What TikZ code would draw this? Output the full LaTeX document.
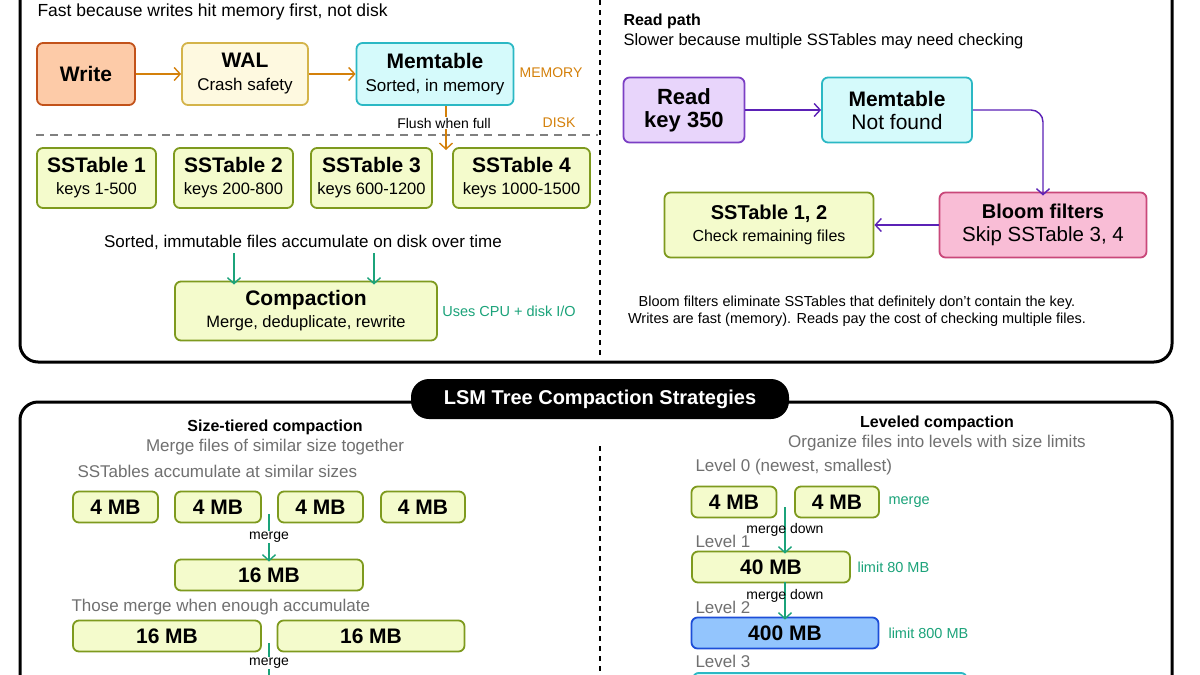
\documentclass[tikz,border=0pt]{standalone}
\usepackage{fontspec}
\setmainfont{Liberation Sans}
\usetikzlibrary{arrows.meta}
\definecolor{orng}{HTML}{D4800A}
\definecolor{grn}{HTML}{1BA37A}
\definecolor{purp}{HTML}{5B21B6}
\definecolor{gtxt}{HTML}{707070}
\definecolor{limef}{HTML}{F4FBCC}
\definecolor{limed}{HTML}{7E9A1E}
\definecolor{peachf}{HTML}{FDCBA8}
\definecolor{peachd}{HTML}{C2521A}
\definecolor{creamf}{HTML}{FEF9E0}
\definecolor{creamd}{HTML}{D4B44A}
\definecolor{cyanf}{HTML}{D5FAFB}
\definecolor{cyand}{HTML}{2BB8C4}
\definecolor{lavf}{HTML}{E8D5FB}
\definecolor{lavd}{HTML}{7B3FC4}
\definecolor{pinkf}{HTML}{F9BDD6}
\definecolor{pinkd}{HTML}{C9487A}
\definecolor{bluef}{HTML}{93C5FD}
\definecolor{blued}{HTML}{1D4ED8}
\newcommand{\rg}[1]{\fontsize{#1pt}{\dimexpr #1pt*12/10\relax}\selectfont}
\newcommand{\bx}[1]{\rg{#1}\bfseries}
\tikzset{
 box/.style={draw, rounded corners=6pt, line width=1.8pt, align=center, inner sep=0pt, font=\rg{20}},
 lbox/.style={box, fill=limef, draw=limed},
 fs/.style={font=\rg{#1}},
 arr/.style={line width=1.4pt, -{Straight Barb[length=6pt,width=13pt]}},
 frame/.style={draw, line width=3pt, rounded corners=18pt},
}
\begin{document}
\begin{tikzpicture}[x=1pt,y=-1pt]
\useasboundingbox (0,0) rectangle (1200,675);
\clip (0,0) rectangle (1200,675);
\fill[white] (0,0) rectangle (1200,675);
% top frame
\draw[frame] (20,-30) rectangle (1172,362);
\draw[line width=1.3pt, dash pattern=on 5pt off 5pt] (600,0) -- (600,358);
% write path
\node[anchor=west, fs=17.5] (fastt) at (34,12) {Fast because writes hit memory first, not disk};
\node[box, fill=peachf, draw=peachd, minimum width=98, minimum height=62] (write) at (86,74) {\bx{21}Write};
\node[box, fill=creamf, draw=creamd, minimum width=126, minimum height=62] (wal) at (245,74) {\bx{21}WAL\\[-1pt]\rg{17}Crash safety};
\node[box, fill=cyanf, draw=cyand, minimum width=157, minimum height=62] (mem) at (435,74) {\bx{21}Memtable\\[-1pt]\rg{17}Sorted, in memory};
\draw[arr, orng] (write) -- (wal);
\draw[arr, orng] (wal) -- (mem);
\node[text=orng, fs=14] (memlbl) at (551,73) {MEMORY};
\node[text=orng, fs=14] (disklbl) at (559,123) {DISK};
\draw[gray, line width=1.3pt, dash pattern=on 8pt off 6pt] (36,135) -- (598,135);
\coordinate (flushend) at (446,150);
\draw[arr, orng] (mem.south -| flushend) -- (flushend);
\node[fill=white, inner sep=1pt, fs=14] (flush) at (444,123) {Flush when full};
\foreach \n/\xa/\xb/\k in {1/37/156/1-500, 2/174/293/200-800, 3/311/432/600-1200, 4/453/590/1000-1500}{
  \node[lbox, minimum width=\xb-\xa, minimum height=60] (ss\n) at ({(\xa+\xb)/2},178) {\bx{21}SSTable \n\\[-2pt]\rg{16.5}keys \k};
}
\node[fs=17] (acc) at (303,242) {Sorted, immutable files accumulate on disk over time};
\node[lbox, minimum width=262, minimum height=59] (comp) at (306,311) {\bx{21}Compaction\\[-2pt]\rg{16.5}Merge, deduplicate, rewrite};
\coordinate (ca) at (234,253); \coordinate (cb) at (374,253);
\draw[arr, grn] (ca) -- ([yshift=-4]ca |- comp.north);
\draw[arr, grn] (cb) -- ([yshift=-4]cb |- comp.north);
\node[text=grn, fs=14.5] (cpu) at (509,311) {Uses CPU + disk I/O};
% read path
\node[anchor=west, font=\bx{16}] (rp) at (620,21) {Read path};
\node[anchor=west, fs=16.5] (rps) at (620,41) {Slower because multiple SSTables may need checking};
\node[box, fill=lavf, draw=lavd, minimum width=121, minimum height=65] (read) at (684,110) {\bx{22}Read\\[-1pt]\bx{22}key 350};
\node[box, fill=cyanf, draw=cyand, minimum width=150, minimum height=65] (mem2) at (897,110) {\bx{21}Memtable\\[-1pt]\rg{21}Not found};
\node[box, fill=pinkf, draw=pinkd, minimum width=207, minimum height=65] (bloom) at (1043,225) {\bx{20}Bloom filters\\[-1pt]\rg{20.5}Skip SSTable 3, 4};
\node[lbox, minimum width=209, minimum height=65] (ss12) at (769,225) {\bx{20}SSTable 1, 2\\[-2pt]\rg{16}Check remaining files};
\draw[arr, purp] (read) -- (mem2);
\draw[arr, purp, rounded corners=12pt] (mem2.east) -- (bloom.north |- mem2.east) -- ([yshift=-4]bloom.north);
\draw[arr, purp] (bloom) -- (ss12);
\node[fs=14.5, align=center] (cap) at (857,311) {Bloom filters eliminate SSTables that definitely don't contain the key.\\Writes are fast (memory). Reads pay the cost of checking multiple files.};
% bottom frame
\draw[frame] (20,402) rectangle (1172,720);
\node[fill=black, text=white, rounded corners=18pt, minimum width=378, minimum height=40, font=\bx{20}] (title) at (600,399) {LSM Tree Compaction Strategies};
\draw[line width=1.3pt, dash pattern=on 5pt off 5pt] (600,446) -- (600,675);
% size tiered
\node[font=\bx{16}] (st) at (275,427) {Size-tiered compaction};
\node[text=gtxt, fs=17] (sts) at (275,447) {Merge files of similar size together};
\node[anchor=west, text=gtxt, fs=17] (sta) at (74,471) {SSTables accumulate at similar sizes};
\foreach \n/\xa/\xb in {1/73/158, 2/175/261, 3/278/363, 4/381/465}{
  \node[lbox, minimum width=\xb-\xa, minimum height=31] (f\n) at ({(\xa+\xb)/2},507) {\bx{21}4 MB};
}
\node[lbox, minimum width=188, minimum height=31] (s16) at (269,575) {\bx{21}16 MB};
\coordinate (m1) at (269,514);
\draw[arr, grn] (m1) -- ([yshift=-3]s16.north -| m1);
\node[fill=white, inner sep=1pt, fs=14] (mg1) at (269,537) {merge};
\node[anchor=west, text=gtxt, fs=17] (thm) at (68,607) {Those merge when enough accumulate};
\node[lbox, minimum width=188, minimum height=31] (t1) at (167,636) {\bx{21}16 MB};
\node[lbox, minimum width=187, minimum height=31] (t2) at (371,636) {\bx{21}16 MB};
\coordinate (m2) at (269,643); \coordinate (m2e) at (269,690);
\draw[arr, grn] (m2) -- (m2e);
\node[fill=white, inner sep=1pt, fs=14] (mg2) at (269,663) {merge};
% leveled
\node[font=\bx{16}] (lv) at (937,423) {Leveled compaction};
\node[text=gtxt, fs=17] (lvs) at (937,443) {Organize files into levels with size limits};
\node[anchor=west, text=gtxt, fs=17] (l0) at (692,467) {Level 0 (newest, smallest)};
\node[lbox, minimum width=85, minimum height=31] (a1) at (734,502) {\bx{21}4 MB};
\node[lbox, minimum width=84, minimum height=31] (a2) at (837,502) {\bx{21}4 MB};
\node[anchor=west, text=grn, fs=14.5] (amg) at (885,502) {merge};
\node[anchor=west, text=gtxt, fs=17] (l1) at (692,541) {Level 1};
\node[lbox, minimum width=158, minimum height=31] (b40) at (771,567) {\bx{21}40 MB};
\node[anchor=west, text=grn, fs=14.5] (lim1) at (854,567) {limit 80 MB};
\node[anchor=west, text=gtxt, fs=17] (l2) at (692,607) {Level 2};
\node[box, fill=bluef, draw=blued, minimum width=187, minimum height=31] (c400) at (785,633) {\bx{21}400 MB};
\node[anchor=west, text=grn, fs=14.5] (lim2) at (885,633) {limit 800 MB};
\node[anchor=west, text=gtxt, fs=17] (l3) at (692,661) {Level 3};
\node[box, fill=cyanf, draw=cyand, minimum width=274, minimum height=31, anchor=north west] (d) at (692,672) {};
\coordinate (md1) at (785,507);
\draw[arr, grn] (md1) -- ([yshift=-3]b40.north -| md1);
\node[inner sep=0pt, fs=14] (mdt1) at (785,530) {merge down};
\coordinate (md2) at (785,582);
\draw[arr, grn] (md2) -- ([yshift=-3]c400.north -| md2);
\node[inner sep=0pt, fs=14] (mdt2) at (785,596) {merge down};
\end{tikzpicture}
\end{document}
